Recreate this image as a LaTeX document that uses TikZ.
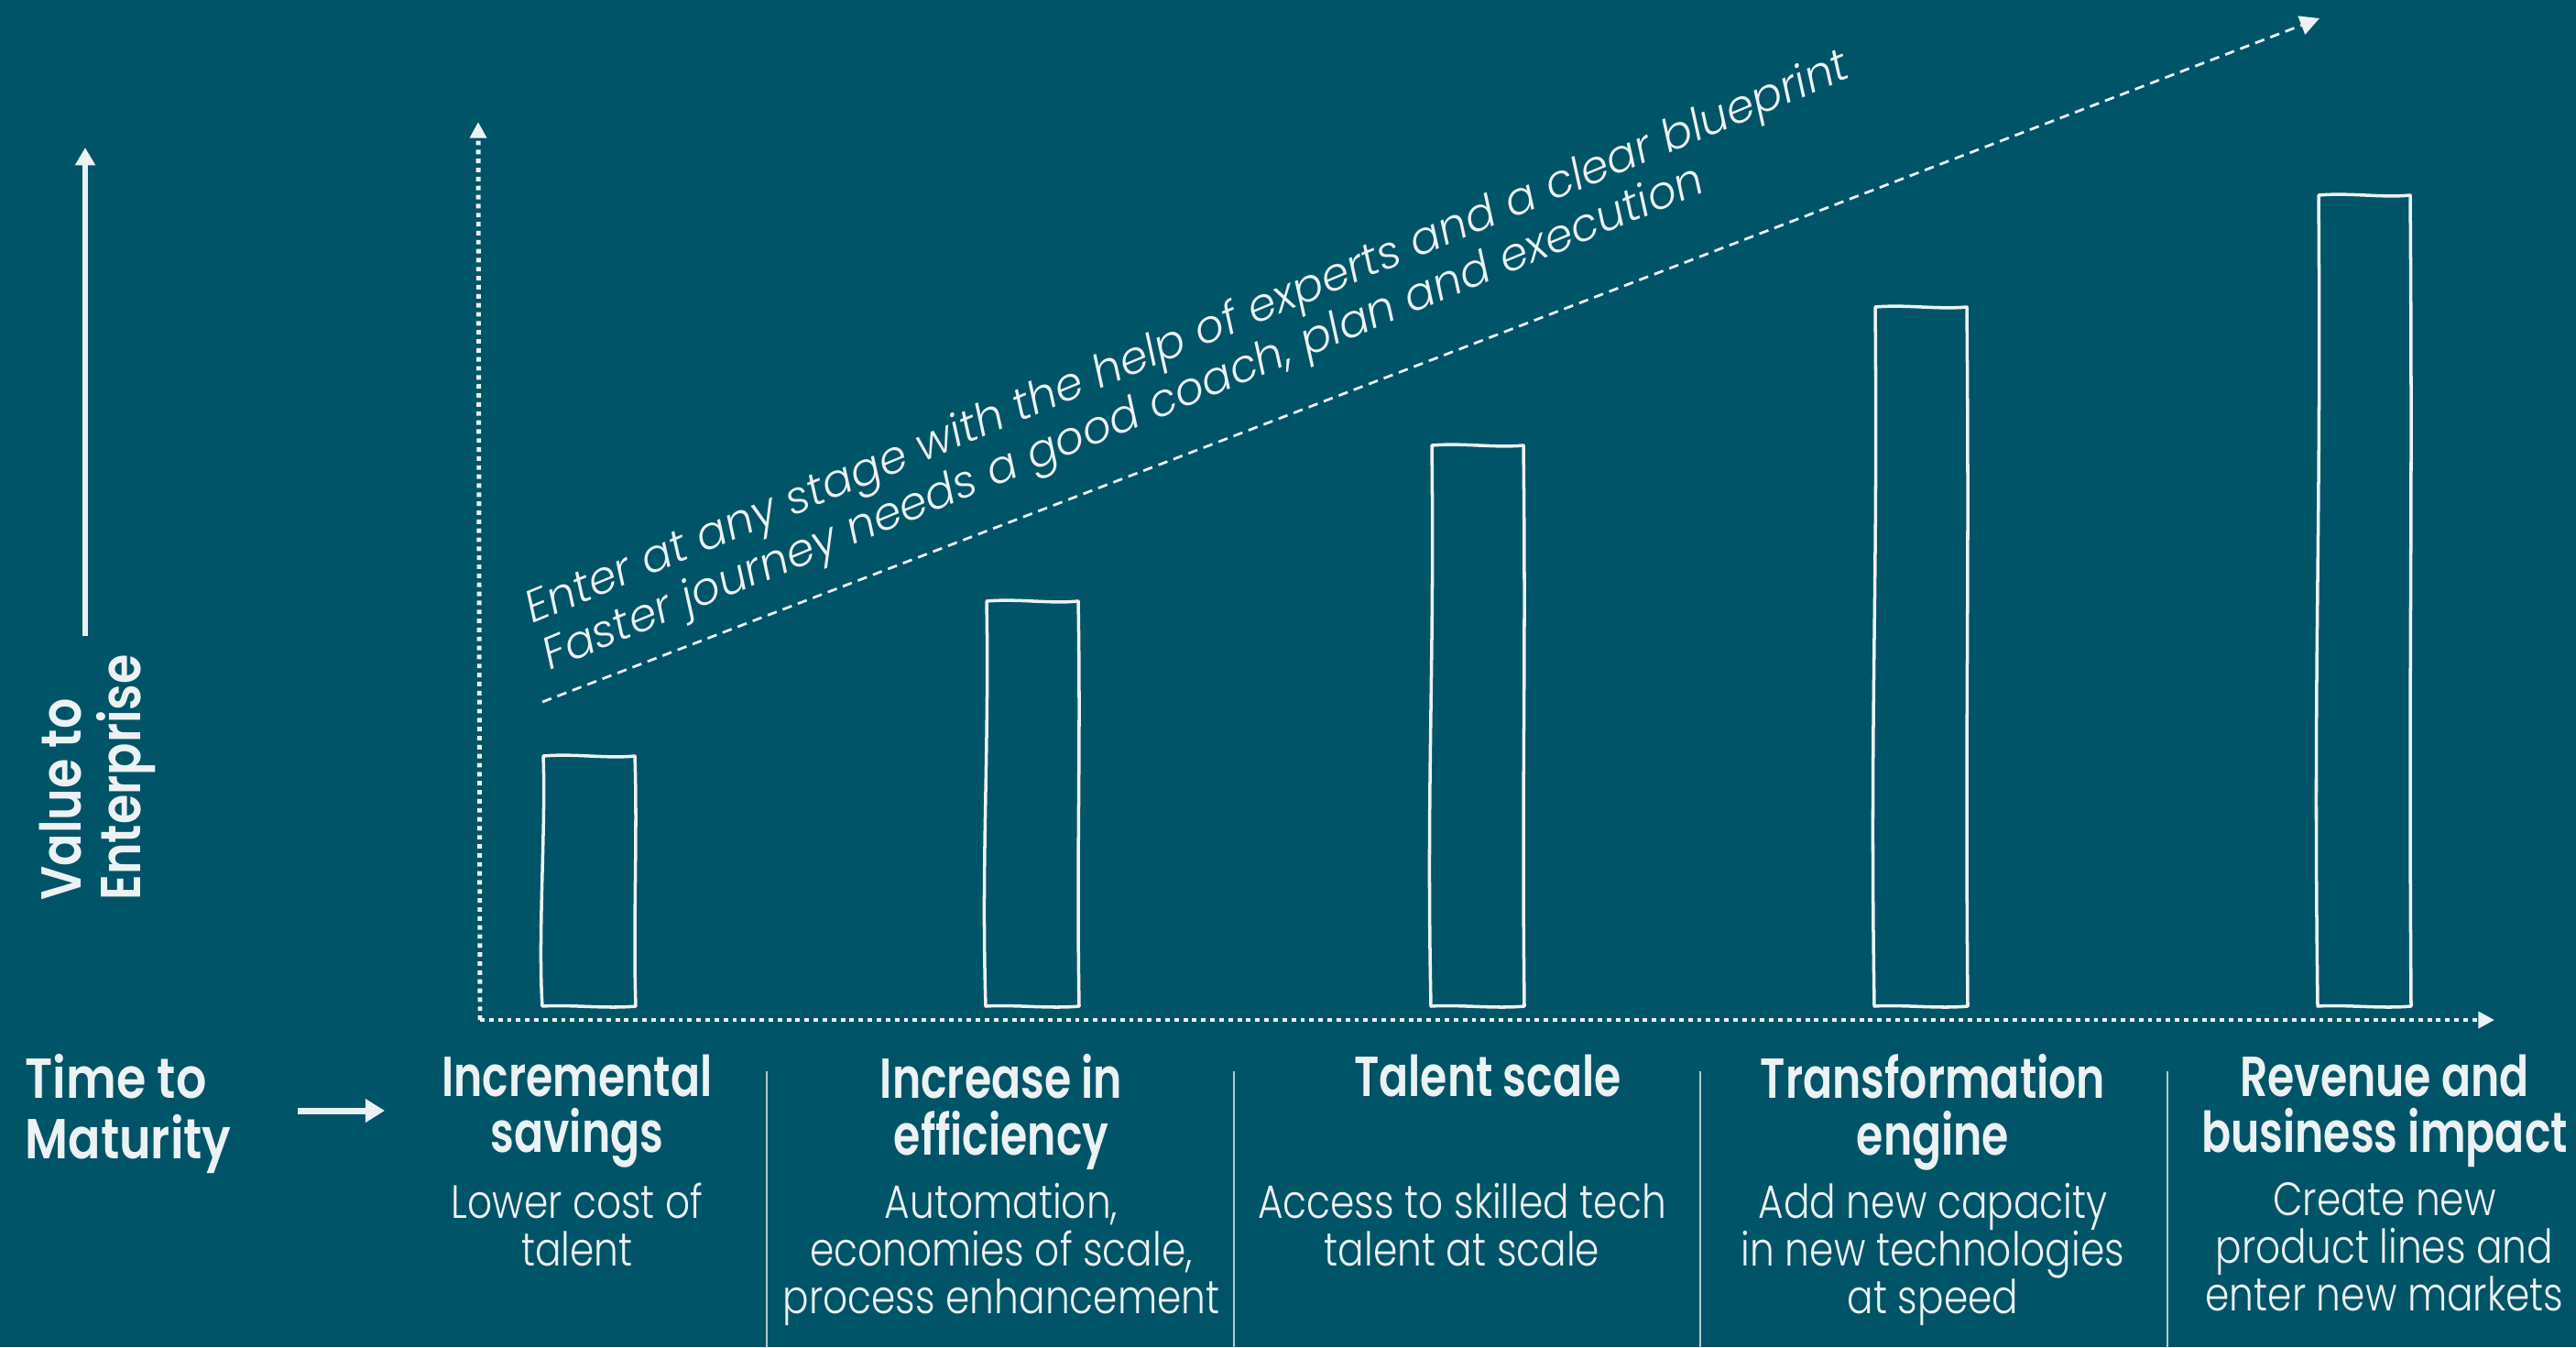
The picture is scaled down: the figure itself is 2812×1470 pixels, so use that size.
\documentclass[tikz,border=0pt]{standalone}
\usepackage{fontspec}
\setmainfont{Poppins}[UprightFont=* Light, ItalicFont=* Light Italic, BoldFont=* SemiBold]
\usetikzlibrary{arrows.meta}
\definecolor{bgteal}{RGB}{0,84,103}
\definecolor{chalk}{RGB}{236,242,243}

\begin{document}
\begin{tikzpicture}[x=0.1mm, y=-0.1mm,
  every node/.style={text=chalk, inner sep=0pt},
  head/.style={font=\bfseries\fontsize{17.5}{17.4}\selectfont, align=center, anchor=north, xscale=0.77},
  side/.style={font=\bfseries\fontsize{17.5}{18.7}\selectfont, align=left, xscale=0.85},
  desc/.style={font=\fontsize{14.5}{14.8}\selectfont, align=center, anchor=north, xscale=0.83},
  diag/.style={font=\itshape\fontsize{14}{14}\selectfont, rotate=22.5, anchor=base west},
  axis/.style={chalk, line width=1.4pt, dash pattern=on 1.4pt off 1.4pt, -{Triangle[width=5pt,length=5pt]}},
  sketch/.style={chalk, line width=1pt, line join=round},
  sep/.style={chalk!75!bgteal, line width=0.6pt}]
  \useasboundingbox (0,0) rectangle (2812,1470);
  \fill[bgteal] (0,0) rectangle (2812,1470);

  \coordinate (vbase) at (93,694);
  \coordinate (vtip) at (93,161);
  \coordinate (origin) at (524,1113);
  \coordinate (ytip) at (522,133);
  \coordinate (xtip) at (2723,1113);
  \coordinate (dstart) at (592,766);
  \coordinate (dend) at (2532,20);
  \coordinate (tbase) at (325,1212);
  \coordinate (ttip) at (420,1212);

  \draw[chalk, line width=1.7pt, -{Triangle[width=6pt,length=5.5pt]}] (vbase) -- (vtip);
  \draw[axis] (origin) -- (ytip);
  \draw[axis] (origin) -- (xtip);
  \draw[chalk, line width=0.8pt, dash pattern=on 3pt off 2pt, -{Triangle[width=6pt,length=6pt]}] (dstart) -- (dend);
  \draw[chalk, line width=2pt, -{Triangle[width=7pt,length=6pt]}] (tbase) -- (ttip);

  \foreach \x/\t [evaluate=\t as \m using (1098+\t)/2] in {592/825, 1076/656, 1562/486, 2046/335, 2530/213}
    \draw[sketch] (\x,1098) .. controls (\x-5,\m+60) and (\x+4,\m-60) .. (\x+1,\t)
      .. controls (\x+35,\t-3) and (\x+70,\t+3) .. (\x+101,\t)
      .. controls (\x+104,\m-50) and (\x+99,\m+50) .. (\x+102,1098)
      .. controls (\x+70,1101) and (\x+30,1096) .. (\x,1098) -- cycle;

  \node[rotate=90, side, anchor=north west] (value) at (42,983) {Value to\\Enterprise};
  \node[diag] (enter) at (581,681) {Enter at any stage with the help of experts and a clear blueprint};
  \node[diag] (faster) at (600,732) {Faster journey needs a good coach, plan and execution};

  \node[side, anchor=north west] (maturity) at (27,1150) {Time to\\Maturity};
  \foreach \n/\x/\txt in {inc/630/{Incremental\\savings}, eff/1093/{Increase in\\efficiency},
      tal/1624/{Talent scale}, tra/2110/{Transformation\\engine}, rev/2603/{Revenue and\\business impact}}
    \node[head] (\n) at (\x,1150) {\txt};
  \foreach \n/\x/\txt in {inc/630/{Lower cost of\\talent}, eff/1093/{Automation,\\economies of scale,\\process enhancement},
      tal/1596/{Access to skilled tech\\talent at scale}, tra/2110/{Add new capacity\\in new technologies\\at speed},
      rev/2603/{Create new\\product lines and\\enter new markets}}
    \node[desc] (\n-d) at (\x,1290) {\txt};
  \foreach \x in {837,1347,1856,2366}
    \draw[sep] (\x,1169) -- (\x,1470);
\end{tikzpicture}
\end{document}
